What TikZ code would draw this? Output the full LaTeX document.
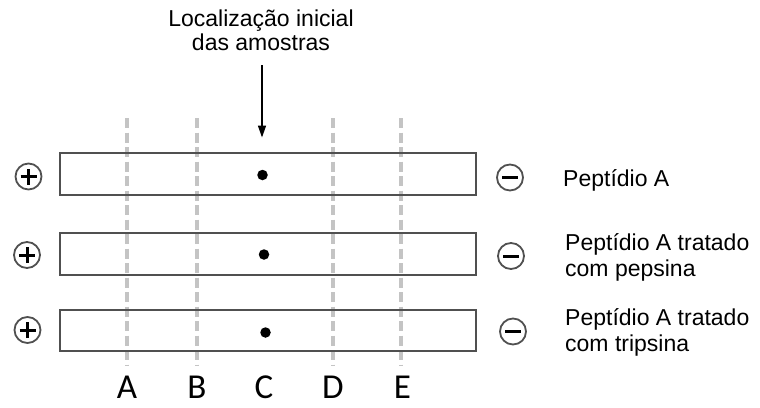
\documentclass[tikz,border=0pt]{standalone}
\usepackage{fontspec}
\setmainfont{Liberation Sans}
\newfontfamily\letterfont{Carlito}
\usetikzlibrary{arrows.meta}
\definecolor{laneborder}{HTML}{505050}
\definecolor{dashgray}{HTML}{C4C4C4}
\definecolor{signgray}{HTML}{505050}
\begin{document}
\begin{tikzpicture}[x=1pt,y=-1pt,
  lane/.style={draw=laneborder, line width=2pt, minimum width=416pt, inner sep=0pt, fill=none},
  guide/.style={draw=dashgray, line width=3.2pt, dash pattern=on 10pt off 4.5pt},
  sign/.style={circle, draw=signgray, line width=1.8pt, minimum size=26pt, inner sep=0pt},
  stroke/.style={line width=3pt, black},
  lbl/.style={font=\fontsize{23}{26}\selectfont, anchor=base west, align=left, inner sep=0pt},
  colletter/.style={font=\letterfont\fontsize{35}{38}\selectfont, anchor=base, inner sep=0pt},
  sample/.style={circle, fill=black, minimum size=10.5pt, inner sep=0pt}
]
\useasboundingbox (0,0) rectangle (760,407);

% dashed guide lines
\foreach \n/\x in {A/127,B/197,D/333,E/401}{
  \coordinate (t\n) at (\x,118);
  \coordinate (b\n) at (\x,366);
  \draw[guide] (t\n) -- (b\n);
}

% lanes
\node[lane, minimum height=42.5pt] (r1) at (268,173.75) {};
\node[lane, minimum height=42.5pt] (r2) at (268,253.75) {};
\node[lane, minimum height=41.5pt] (r3) at (268,330.25) {};

% samples
\node[sample] (s1) at (262.5,175) {};
\node[sample] (s2) at (264,254.5) {};
\node[sample] (s3) at (265.5,332.5) {};

% plus signs
\foreach \n/\x/\y in {1/28.5/176.5,2/27/255,3/27.5/330}{
  \node[sign] (p\n) at (\x,\y) {};
  \draw[stroke] ([xshift=-8pt]p\n.center) -- ([xshift=8pt]p\n.center);
  \draw[stroke] ([yshift=-8pt]p\n.center) -- ([yshift=8pt]p\n.center);
}
% minus signs
\foreach \n/\x/\y in {1/510/177.5,2/511/256,3/513/331.5}{
  \node[sign] (m\n) at (\x,\y) {};
  \draw[stroke] ([xshift=-8pt]m\n.center) -- ([xshift=8pt]m\n.center);
}

% title and arrow
\node[font=\fontsize{23}{23.5}\selectfont, align=center, inner sep=0pt, anchor=base] (title) at (261,50) {Localização inicial\\das amostras};
\coordinate (arrstart) at (262,65);
\coordinate (arrend) at (262,137.5);
\draw[line width=1.5pt, -{Triangle[length=12pt,width=8pt]}] (arrstart) -- (arrend);

% labels
\node[lbl] (l1) at (563,186.7) {Peptídio A};
\node[lbl] (l2) at (565,276.7) {Peptídio A tratado\\com pepsina};
\node[lbl] (l3) at (565,351.7) {Peptídio A tratado\\com tripsina};

% column letters
\node[colletter] (cA) at (127,398) {A};
\node[colletter] (cB) at (197,398) {B};
\node[colletter] (cC) at (264,398) {C};
\node[colletter] (cD) at (333,398) {D};
\node[colletter] (cE) at (402.5,398) {E};
\end{tikzpicture}
\end{document}
